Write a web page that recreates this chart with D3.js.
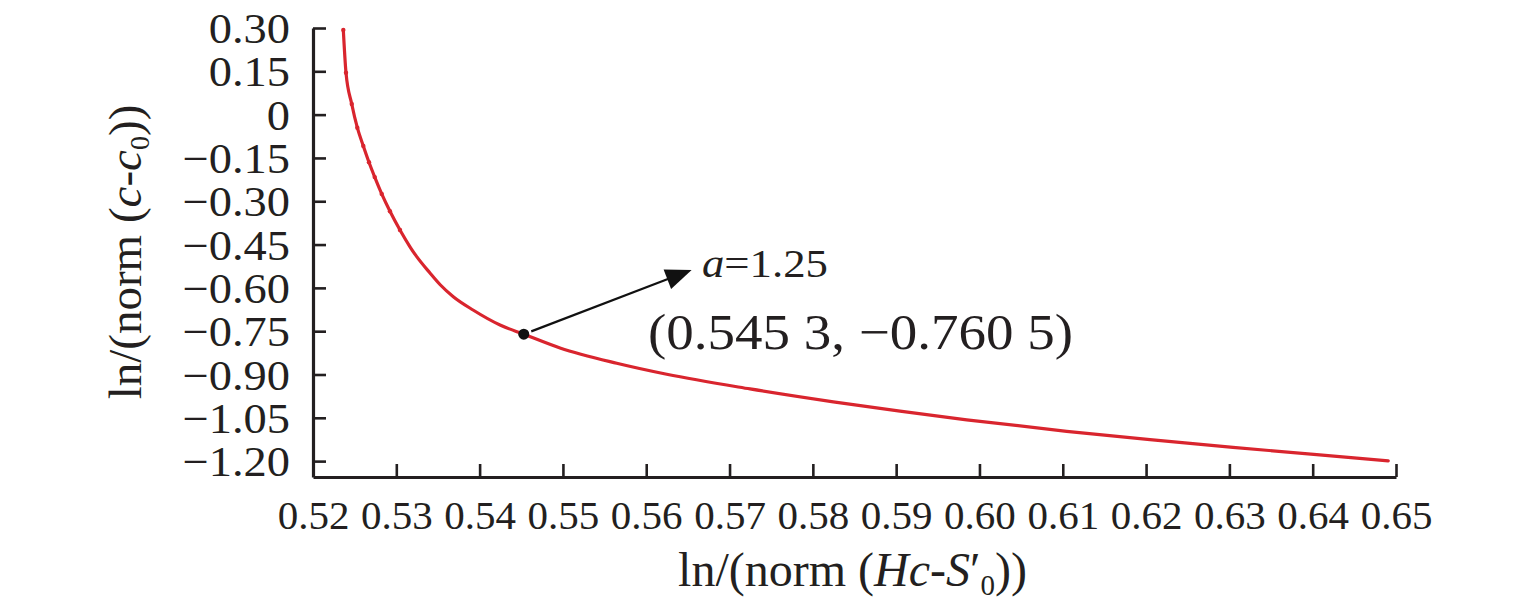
<!DOCTYPE html>
<html>
<head>
<meta charset="utf-8">
<script src="https://cdn.jsdelivr.net/npm/d3@7/dist/d3.min.js"></script>
<style>
  html, body { margin: 0; padding: 0; background: #fff; }
  svg { display: block; }
  text { font-family: "Liberation Serif", "Times New Roman", Times, serif; fill: #231f20; }
</style>
</head>
<body>
<svg id="chart" width="1535" height="611"></svg>
<script>
// ---- data ----
const xValues = [0.52364, 0.52396, 0.52465, 0.52532, 0.52604, 0.52672, 0.52741, 0.52825, 0.52924, 0.53044,
  0.53170, 0.53245, 0.53404, 0.53524, 0.53684, 0.53921, 0.54245, 0.5453, 0.54965, 0.55646,
  0.56246, 0.57246, 0.58246, 0.59046, 0.59847, 0.61047, 0.62047, 0.63043, 0.64048, 0.64907];
const yValues = [0.2931, 0.1452, 0.0368, -0.0453, -0.1087, -0.1651, -0.2164, -0.2745, -0.3348, -0.3996,
  -0.4602, -0.4920, -0.5485, -0.5883, -0.6306, -0.6766, -0.7286, -0.7605, -0.8082, -0.8612,
  -0.8993, -0.9499, -0.9946, -1.0268, -1.0569, -1.0967, -1.1255, -1.1521, -1.1778, -1.1989];
const xTicks = [0.52, 0.53, 0.54, 0.55, 0.56, 0.57, 0.58, 0.59, 0.60, 0.61, 0.62, 0.63, 0.64, 0.65];
const xTickLabels = ["0.52","0.53","0.54","0.55","0.56","0.57","0.58","0.59","0.60","0.61","0.62","0.63","0.64","0.65"];
const yTicks = [0.30, 0.15, 0, -0.15, -0.30, -0.45, -0.60, -0.75, -0.90, -1.05, -1.20];
const yTickLabels = ["0.30","0.15","0","\u22120.15","\u22120.30","\u22120.45","\u22120.60","\u22120.75","\u22120.90","\u22121.05","\u22121.20"];
const xDomain = [0.52, 0.65];
const yDomain = [-1.255, 0.30];
const keyPoint = [0.5453, -0.7605];
const arrowTip = [0.56545, -0.5377];
const labelA = { x: 0.56668, y: -0.561 };
const labelCoord = { x: 0.5602, y: -0.812, text: "(0.545 3, \u22120.760 5)" };

// ---- layout ----
const svg = d3.select("#chart");
const mLeft = 313, mRight = 1396, mTop = 28, mBottom = 477;
const x = d3.scaleLinear().domain(xDomain).range([mLeft, mRight]);
const y = d3.scaleLinear().domain(yDomain).range([mBottom, mTop]);
const ink = "#231f20";
const serif = '"Liberation Serif", "Times New Roman", serif';

// axes
const gx = svg.append("g").attr("transform", `translate(0,${mBottom})`)
  .call(d3.axisBottom(x).tickValues(xTicks).tickFormat((d, i) => xTickLabels[i])
    .tickSizeInner(-13).tickSizeOuter(0).tickPadding(0));
gx.select(".domain").attr("stroke", ink).attr("stroke-width", 3.2);
gx.selectAll(".tick line").attr("stroke", ink).attr("stroke-width", 2.6);
gx.selectAll(".tick text").attr("y", 52).attr("dy", 0)
  .style("font-size", "41px").attr("fill", ink).style("font-family", serif);

const gy = svg.append("g").attr("transform", `translate(${mLeft},0)`)
  .call(d3.axisLeft(y).tickValues(yTicks).tickFormat((d, i) => yTickLabels[i])
    .tickSizeInner(-13).tickSizeOuter(0).tickPadding(23));
gy.select(".domain").attr("stroke", ink).attr("stroke-width", 3.2);
gy.selectAll(".tick line").attr("stroke", ink).attr("stroke-width", 2.6);
gy.selectAll(".tick text").attr("dy", "0.34em")
  .style("font-size", "43px").attr("fill", ink).style("font-family", serif)
  .each(function() {
    const t = d3.select(this);
    const xx = +t.attr("x");
    t.attr("x", 0).attr("transform", `translate(${xx},0) scale(1.08,1)`);
  });

// curve
const data = xValues.map((v, i) => [v, yValues[i]]);
const line = d3.line().x(d => x(d[0])).y(d => y(d[1])).curve(d3.curveMonotoneX);
svg.append("path").datum(data).attr("d", line)
  .attr("fill", "none").attr("stroke", "#d9252e").attr("stroke-width", 3.2)
  .attr("stroke-linecap", "round");
svg.append("g").selectAll("circle").data(data.slice(0, 10)).join("circle")
  .attr("cx", d => x(d[0])).attr("cy", d => y(d[1])).attr("r", 2.2).attr("fill", "#d9252e");

// key point + arrow
const px = x(keyPoint[0]), py = y(keyPoint[1]);
const tx = x(arrowTip[0]), ty = y(arrowTip[1]);
const dx = tx - px, dy = ty - py, L = Math.hypot(dx, dy);
const ux = dx / L, uy = dy / L;
const sx = px + ux * 8, sy = py + uy * 8;
const headLen = 26, headHalf = 10.5;
const bx = tx - ux * headLen, by = ty - uy * headLen;
svg.append("line").attr("x1", sx).attr("y1", sy).attr("x2", bx + ux * 2).attr("y2", by + uy * 2)
  .attr("stroke", "#111").attr("stroke-width", 2.2);
svg.append("polygon")
  .attr("points", [[tx, ty], [bx - uy * headHalf, by + ux * headHalf], [bx + uy * headHalf, by - ux * headHalf]].map(p => p.join(",")).join(" "))
  .attr("fill", "#111");
svg.append("circle").attr("cx", px).attr("cy", py).attr("r", 5.5).attr("fill", "#111");

// annotation texts
const ta = svg.append("text")
  .attr("transform", `translate(${x(labelA.x)},${y(labelA.y)}) scale(1.12,1)`)
  .style("font-size", "40px");
ta.append("tspan").attr("font-style", "italic").text("a");
ta.append("tspan").text("=1.25");

svg.append("text")
  .attr("transform", `translate(${x(labelCoord.x)},${y(labelCoord.y)}) scale(1.1,1)`)
  .style("font-size", "50px")
  .text(labelCoord.text);

// axis titles
const xt = svg.append("text").attr("x", (mLeft + mRight) / 2 - 2).attr("y", 586)
  .attr("text-anchor", "middle").style("font-size", "48px");
xt.append("tspan").text("ln/(norm (");
xt.append("tspan").attr("font-style", "italic").text("Hc");
xt.append("tspan").text("-");
xt.append("tspan").attr("font-style", "italic").text("S");
xt.append("tspan").text("\u2032");
xt.append("tspan").attr("font-size", "29px").attr("dy", 9).text("0");
xt.append("tspan").attr("dy", -9).text("))");

const yt = svg.append("text").attr("transform", `translate(141,252) rotate(-90)`)
  .attr("text-anchor", "middle").style("font-size", "47px");
yt.append("tspan").text("ln/(norm (");
yt.append("tspan").attr("font-style", "italic").text("c");
yt.append("tspan").text("-");
yt.append("tspan").attr("font-style", "italic").text("c");
yt.append("tspan").attr("font-size", "28px").attr("dy", 8).text("0");
yt.append("tspan").attr("dy", -8).text("))");
</script>
</body>
</html>
